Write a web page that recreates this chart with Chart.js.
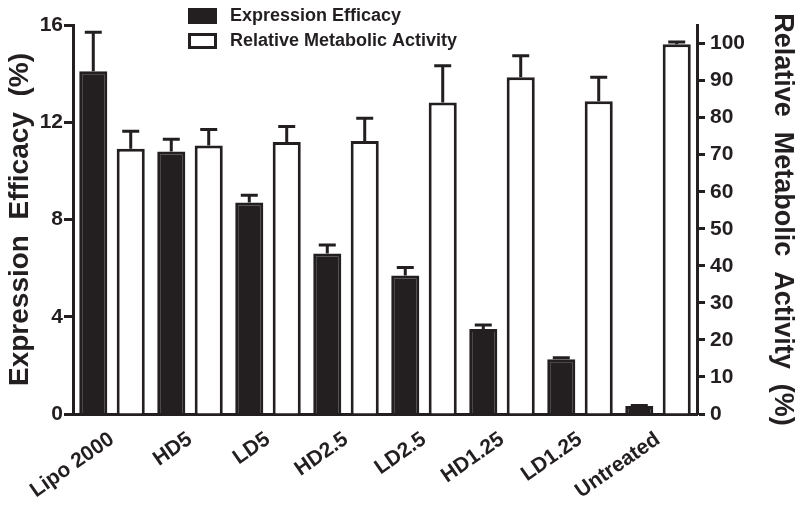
<!DOCTYPE html>
<html>
<head>
<meta charset="utf-8">
<script src="https://cdn.jsdelivr.net/npm/chart.js@4"></script>
<style>
  html, body { margin: 0; padding: 0; background: #fff; }
</style>
</head>
<body>
<canvas id="myChart" width="800" height="505"></canvas>
<script>
'use strict'

// data
const groups = ['Lipo 2000', 'HD5', 'LD5', 'HD2.5', 'LD2.5', 'HD1.25', 'LD1.25', 'Untreated'];
const expressionEfficacy = [14.1, 10.8, 8.7, 6.6, 5.7, 3.5, 2.25, 0.33];
const expressionError = [1.6, 0.5, 0.3, 0.35, 0.33, 0.16, 0.06, 0.02];
const metabolicActivity = [71.6, 72.5, 73.4, 73.7, 84.1, 90.9, 84.4, 99.8];
const metabolicError = [4.7, 4.3, 4.2, 6.1, 9.9, 5.8, 6.5, 0.6];
const leftTicks = [0, 4, 8, 12, 16];
const rightTicks = [0, 10, 20, 30, 40, 50, 60, 70, 80, 90, 100];

const ink = '#231f20';
const fontFamily = 'Arial, "Liberation Sans", Helvetica, sans-serif';

Chart.defaults.font.family = fontFamily;
Chart.defaults.font.weight = 'bold';
Chart.defaults.color = ink;

// upward error bars with caps
const errorBars = {
  id: 'errorBars',
  afterDatasetsDraw(chart) {
    const ctx = chart.ctx;
    chart.data.datasets.forEach((ds, i) => {
      const meta = chart.getDatasetMeta(i);
      const scale = chart.scales[meta.yAxisID];
      meta.data.forEach((bar, j) => {
        const top = scale.getPixelForValue(ds.data[j] + ds.errors[j]);
        ctx.save();
        ctx.strokeStyle = ink;
        ctx.lineWidth = 3;
        ctx.beginPath();
        ctx.moveTo(bar.x, bar.y);
        ctx.lineTo(bar.x, top);
        ctx.moveTo(bar.x - 8.5, top);
        ctx.lineTo(bar.x + 8.5, top);
        ctx.stroke();
        ctx.restore();
      });
    });
  }
};

// legend drawn inside the top of the plot
const boxLegend = {
  id: 'boxLegend',
  afterDraw(chart) {
    const ctx = chart.ctx;
    chart.data.datasets.forEach((ds, i) => {
      const y = 8 + i * 25;
      ctx.save();
      ctx.fillStyle = ds.backgroundColor;
      ctx.fillRect(189.5, y + 1.5, 26, 13);
      ctx.strokeStyle = ink;
      ctx.lineWidth = 3;
      ctx.strokeRect(189.5, y + 1.5, 26, 13);
      ctx.fillStyle = ink;
      ctx.font = 'bold 18px ' + fontFamily;
      ctx.textBaseline = 'middle';
      ctx.textAlign = 'left';
      ctx.fillText(ds.label, 230, y + 8);
      ctx.restore();
    });
  }
};

const ctx = document.getElementById('myChart');

new Chart(ctx, {
  type: 'bar',
  data: {
    labels: groups,
    datasets: [{
      label: 'Expression Efficacy',
      data: expressionEfficacy,
      errors: expressionError,
      yAxisID: 'y',
      backgroundColor: ink,
      borderColor: ink,
      borderWidth: 3,
      categoryPercentage: 0.96,
      barPercentage: 0.75
    }, {
      label: 'Relative Metabolic Activity',
      data: metabolicActivity,
      errors: metabolicError,
      yAxisID: 'y1',
      backgroundColor: '#ffffff',
      borderColor: ink,
      borderWidth: 3,
      categoryPercentage: 0.96,
      barPercentage: 0.75
    }]
  },
  options: {
    responsive: false,
    animation: false,
    layout: { padding: { top: 25, left: 0, right: 0, bottom: 0 } },
    plugins: {
      legend: { display: false },
      tooltip: { enabled: false }
    },
    scales: {
      x: {
        grid: { display: false },
        border: { display: true, color: ink, width: 3 },
        ticks: {
          font: { size: 21, weight: 'bold' },
          color: ink,
          minRotation: 35,
          maxRotation: 35,
          autoSkip: false,
          padding: 5
        },
        afterFit(scale) { scale.height = 91; }
      },
      y: {
        position: 'left',
        min: 0,
        max: 16,
        afterBuildTicks(scale) { scale.ticks = leftTicks.map(v => ({ value: v })); },
        grid: { display: true, drawOnChartArea: false, drawTicks: true, tickLength: 9, tickWidth: 3, tickColor: ink },
        border: { display: true, color: ink, width: 3 },
        ticks: { font: { size: 21, weight: 'bold' }, color: ink, padding: 1 },
        title: {
          display: true,
          text: 'Expression  Efficacy  (%)',
          font: { size: 28, weight: 'bold', lineHeight: 1 },
          color: ink,
          padding: { top: 6, bottom: 0 }
        },
        afterFit(scale) { scale.width = 73; }
      },
      y1: {
        position: 'right',
        min: 0,
        max: 105,
        afterBuildTicks(scale) { scale.ticks = rightTicks.map(v => ({ value: v })); },
        grid: { display: true, drawOnChartArea: false, drawTicks: true, tickLength: 8, tickWidth: 3, tickColor: ink },
        border: { display: true, color: ink, width: 3 },
        ticks: { font: { size: 21, weight: 'bold' }, color: ink, padding: 5 },
        title: {
          display: true,
          text: 'Relative  Metabolic  Activity  (%)',
          font: { size: 27, weight: 'bold', lineHeight: 1 },
          color: ink,
          padding: { top: 4, bottom: 0 }
        },
        afterFit(scale) { scale.width = 103; }
      }
    }
  },
  plugins: [errorBars, boxLegend]
});
</script>
</body>
</html>
